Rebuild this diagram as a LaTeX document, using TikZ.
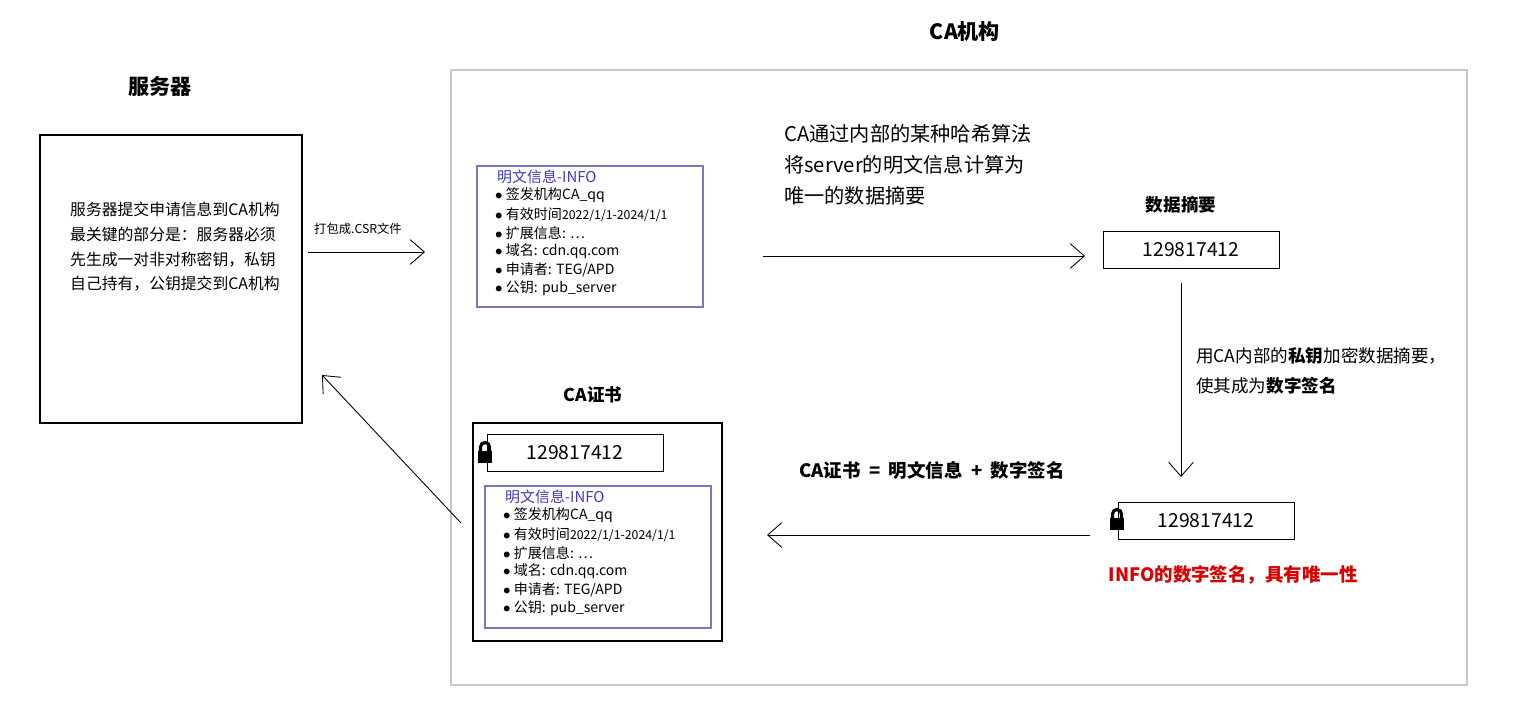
\documentclass[tikz,border=0pt]{standalone}
\usepackage{fontspec}
\setmainfont{Noto Sans CJK SC}
\usetikzlibrary{arrows.meta,calc}
\definecolor{infoblue}{RGB}{60,60,190}
\definecolor{boxframe}{RGB}{120,120,190}
\definecolor{cagray}{RGB}{200,200,200}
\tikzset{
  flow/.style={-{Straight Barb[length=8pt,width=14pt]}, line width=0.5pt},
  numbox/.style={draw, thin, minimum width=3.52cm, minimum height=0.74cm, font=\fontsize{11}{13}\selectfont},
  infobox/.style={draw=boxframe, thick},
  heading/.style={font=\bfseries\fontsize{10}{12}\selectfont},
  small/.style={font=\fontsize{8}{9}\selectfont, anchor=west},
  plain/.style={font=\fontsize{10}{12}\selectfont, anchor=west}
}
% padlock symbol
\newcommand{\padlock}[2]{%
  \fill (#1-7,#2-3) rectangle (#1+7,#2+9);
  \draw[line width=1.8pt] (#1-4.5,#2-3) -- (#1-4.5,#2-7) arc[start angle=180,end angle=360,radius=4.5] -- (#1+4.5,#2-3);}
% info list at upper-left corner
\newcommand{\infolist}[1]{%
  \node[small, text=infoblue, font=\fontsize{8.5}{9}\selectfont] at ($(#1)+(14,11)$) {明文信息-INFO};
  \foreach \txt [count=\k] in {签发机构CA\_qq, 有效时间{\fontsize{7}{8}\selectfont 2022/1/1-2024/1/1}, 扩展信息: \ldots, 域名: cdn.qq.com, 申请者: TEG/APD, 公钥: pub\_server}
    \node[small] at ($(#1)+(12,11+18.6*\k)$) {$\bullet$ \txt};}
\begin{document}
\begin{tikzpicture}[x=0.02cm,y=-0.02cm]
\useasboundingbox (0,0) rectangle (1515,709);

% titles
\node[heading, font=\bfseries\fontsize{12}{14}\selectfont] (srvtitle) at (160,87) {服务器};
\node[heading, font=\bfseries\fontsize{12}{14}\selectfont] (catitle) at (965,32) {CA机构};

% server
\draw[line width=1.3pt] (40,135) rectangle (302,423);
\node[small] (srvtext) at (64,247) [align=left, font=\fontsize{9}{14}\selectfont] {服务器提交申请信息到CA机构\\最关键的部分是：服务器必须\\先生成一对非对称密钥，私钥\\自己持有，公钥提交到CA机构};
\coordinate (srvout) at (308,252);
\coordinate (srvin) at (322,375);

% CA frame
\draw[cagray, line width=1.3pt] (451,70) rectangle (1467,685);

% plain info
\draw[infobox] (477,166) rectangle (703,307);
\coordinate (info) at (477,166);
\infolist{info}
\coordinate (infoin) at (425,252);
\coordinate (infoout) at (763,256);

% hash text
\node[plain, align=left, font=\fontsize{11.5}{17.5}\selectfont] (hashtext) at (778,165) {CA通过内部的某种哈希算法\\将server的明文信息计算为\\唯一的数据摘要};

% digest
\node[heading] (digtitle) at (1181,205) {数据摘要};
\node[numbox] (digest) at (1191,250) {129817412};

% signing text
\node[plain, align=left, font=\fontsize{10}{17}\selectfont] (signtext) at (1190,371) {用CA内部的\textbf{私钥}加密数据摘要，\\使其成为\textbf{数字签名}};

% signature
\node[numbox] (sign) at (1206,521) {129817412};
\padlock{1117}{521}
\node[font=\bfseries\fontsize{10.5}{12}\selectfont, text=red!85!black] (signnote) at (1233,575) {INFO的数字签名，具有唯一性};

% formula
\node[heading, font=\bfseries\fontsize{10.5}{12}\selectfont] (formula) at (932,470) {CA证书 ~=~ 明文信息 ~+~ 数字签名};

% certificate
\node[heading] (certtitle) at (593,395) {CA证书};
\draw[line width=1.3pt] (473,423) rectangle (722,641);
\node[numbox] (certsign) at (575,453) {129817412};
\padlock{485}{454}
\draw[infobox] (485,486) rectangle (711,628);
\coordinate (certinfo) at (485,486);
\infolist{certinfo}
\coordinate (certout) at (461,523);
\coordinate (certin) at (767,535);

% arrows
\draw[flow] (srvout) -- (infoin);
\node[font=\fontsize{7}{8}\selectfont] (csr) at (358,229) {打包成.CSR文件};
\draw[flow] (infoout) -- (1085,256);
\draw[flow] (1181,283) -- (1181,477);
\draw[flow] (1090,535) -- (certin);
\draw[flow] (certout) -- (srvin);
\end{tikzpicture}
\end{document}
